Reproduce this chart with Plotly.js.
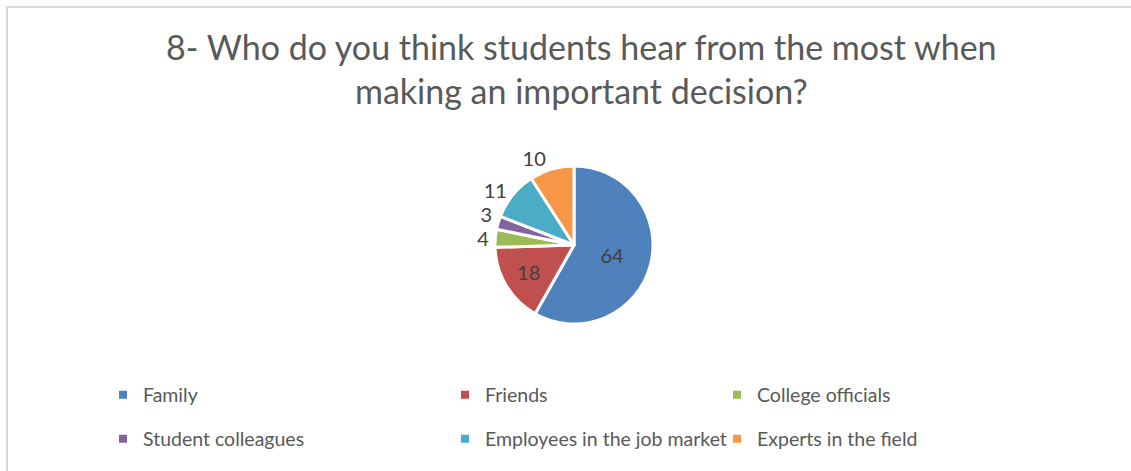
<!DOCTYPE html>
<html>
<head>
<meta charset="utf-8">
<script src="https://cdn.plot.ly/plotly-3.0.1.min.js"></script>
<style>
html,body{margin:0;padding:0;background:#fff;}
#chart{width:1131px;height:471px;}
#chart .textline{display:none;}
</style>
</head>
<body>
<div id="chart"></div>
<script>
const categories = ["Family", "Friends", "College officials", "Student colleagues", "Employees in the job market", "Experts in the field"];
const values = [64, 18, 4, 3, 11, 10];
const colors = ["#4F81BD", "#C0504D", "#9BBB59", "#8064A2", "#4BACC6", "#F79646"];
const labelPositions = ["inside", "inside", "outside", "outside", "outside", "outside"];
const titleText = "8- Who do you think students hear from the most when<br>making an important decision?";

const W = 1131, H = 471;
const FONT = "Lato, 'Open Sans', sans-serif";

const pie = {
  type: "pie",
  labels: categories,
  values: values,
  sort: false,
  direction: "clockwise",
  rotation: 0,
  marker: {colors: colors, line: {color: "#ffffff", width: 3}},
  textinfo: "value",
  textposition: labelPositions,
  insidetextorientation: "horizontal",
  textfont: {family: FONT, size: 20, color: "#404040"},
  outsidetextfont: {family: FONT, size: 20, color: "#404040"},
  insidetextfont: {family: FONT, size: 20, color: "#404040"},
  domain: {x: [(574 - 79) / W, (574 + 79) / W], y: [1 - 324 / H, 1 - 166 / H]},
  showlegend: false,
  hoverinfo: "label+value"
};

// legend entries (one per category), placed in a 3-column grid like the source
const legendCols = [143, 485, 757];
const legendRows = [395, 439];
const traces = [pie];
const layoutLegends = {};
categories.forEach((c, i) => {
  const key = i === 0 ? "legend" : "legend" + (i + 1);
  traces.push({
    type: "scatter", mode: "markers", x: [null], y: [null],
    name: c, legend: key, showlegend: true, hoverinfo: "skip",
    marker: {symbol: "square", size: 8, color: colors[i]}
  });
  const col = i % 3, row = Math.floor(i / 3);
  layoutLegends[key] = {
    x: (legendCols[col] - 40) / W, xanchor: "left",
    y: 1 - legendRows[row] / H, yanchor: "middle",
    font: {family: FONT, size: 19.5, color: "#595959"},
    bgcolor: "rgba(0,0,0,0)", itemwidth: 30, borderwidth: 0
  };
});

const layout = Object.assign({
  width: W, height: H,
  margin: {l: 0, r: 0, t: 0, b: 0, pad: 0},
  paper_bgcolor: "#ffffff", plot_bgcolor: "rgba(0,0,0,0)",
  title: {
    text: titleText,
    font: {family: FONT, size: 34, color: "#595959"},
    x: 0.514, xanchor: "center",
    y: 1 - 60 / H, yanchor: "top", yref: "container"
  },
  xaxis: {visible: false, fixedrange: true},
  yaxis: {visible: false, fixedrange: true},
  shapes: [{
    type: "path", xref: "paper", yref: "paper",
    path: `M ${7 / W},-0.1 L ${7 / W},${1 - 7 / H} L 1.1,${1 - 7 / H}`,
    line: {color: "#d9d9d9", width: 2}
  }]
}, layoutLegends);

Plotly.newPlot("chart", traces, layout, {displayModeBar: false, staticPlot: true});
</script>
</body>
</html>
